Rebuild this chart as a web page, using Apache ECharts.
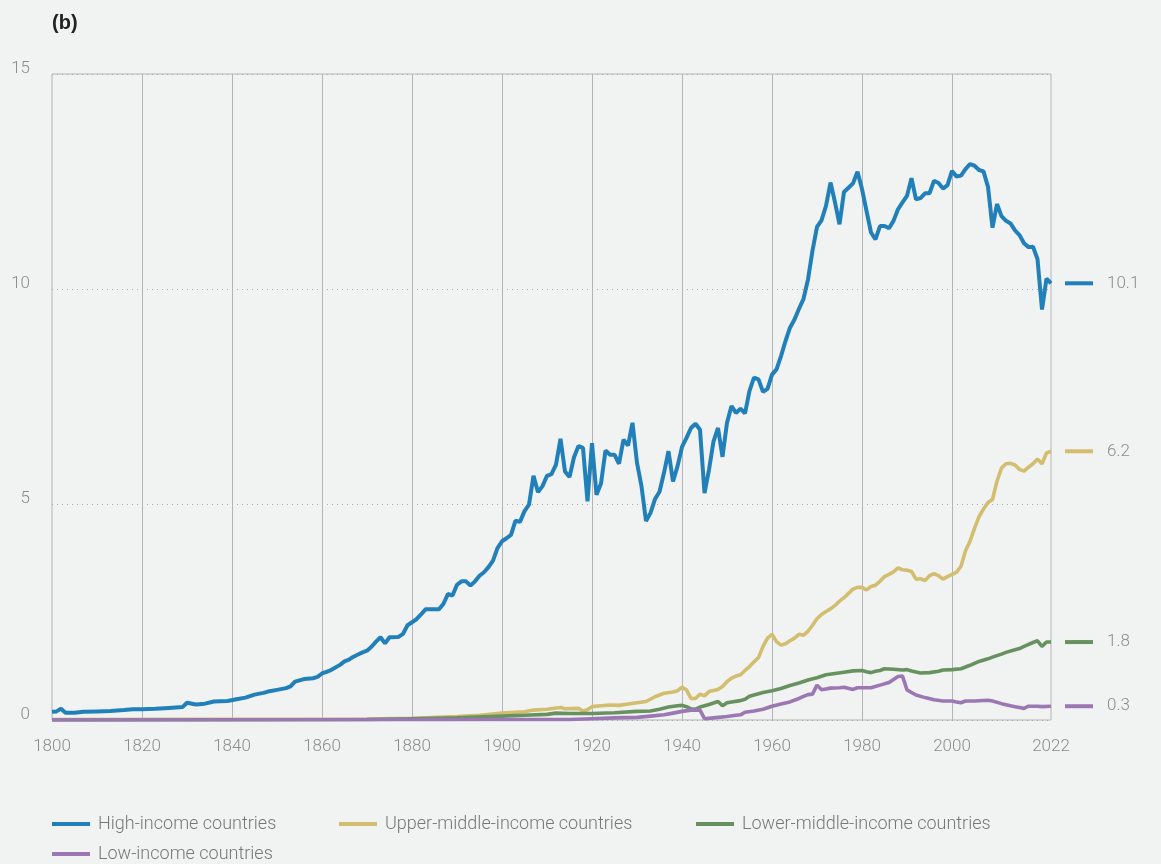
<!DOCTYPE html>
<html>
<head>
<meta charset="utf-8">
<script src="https://cdn.jsdelivr.net/npm/echarts@6/dist/echarts.min.js"></script>
<style>
html,body{margin:0;padding:0;background:#f1f2f2;}
#c{width:1161px;height:864px;}
</style>
</head>
<body>
<div id="c"></div>
<script>
// ---- data ----
const seriesNames = ['High-income countries','Upper-middle-income countries','Lower-middle-income countries','Low-income countries'];
const endLabels = ['10.1','6.2','1.8','0.3'];
const xTickLabels = [1800,1820,1840,1860,1880,1900,1920,1940,1960,1980,2000,2022];
const gridYears = [1820,1840,1860,1880,1900,1920,1940,1960,1980,2000];

const highYears = [1800,1801,1802,1803,1805,1807,1810,1813,1816,1818,1820,1823,1826,1829,1830,1832,1834,1836,1839,1841,1843,1845,1847,1848,1850,1852,1853,1854,1856,1858,1859,1860,1861,1862,1864,1865,1866,1867,1868,1869,1870,1871,1872,1873,1874,1875,1877,1878,1879,1880,1881,1882,1883,1884,1886,1887,1888,1889,1890,1891,1892,1893,1894,1895,1896,1897,1898,1899,1900,1901,1902,1903,1904,1905,1906,1907,1908,1909,1910,1911,1912,1913,1914,1915,1916,1917,1918,1919,1920,1921,1922,1923,1924,1925,1926,1927,1928,1929,1930,1931,1932,1933,1934,1935,1936,1937,1938,1939,1940,1941,1942,1943,1944,1945,1946,1947,1948,1949,1950,1951,1952,1953,1954,1955,1956,1957,1958,1959,1960,1961,1962,1963,1964,1965,1966,1967,1968,1969,1970,1971,1972,1973,1974,1975,1976,1977,1978,1979,1980,1981,1982,1983,1984,1985,1986,1987,1988,1989,1990,1991,1992,1993,1994,1995,1996,1997,1998,1999,2000,2001,2002,2003,2004,2005,2006,2007,2008,2009,2010,2011,2012,2013,2014,2015,2016,2017,2018,2019,2020,2021,2022];
const highValues = [0.19,0.20,0.26,0.17,0.17,0.19,0.20,0.21,0.23,0.25,0.25,0.26,0.28,0.30,0.40,0.36,0.38,0.43,0.44,0.48,0.52,0.59,0.63,0.66,0.70,0.74,0.78,0.89,0.95,0.97,1.00,1.08,1.12,1.16,1.28,1.36,1.40,1.47,1.52,1.57,1.61,1.70,1.82,1.92,1.78,1.92,1.93,2.00,2.20,2.27,2.34,2.45,2.57,2.57,2.57,2.70,2.93,2.89,3.14,3.22,3.22,3.12,3.22,3.35,3.43,3.55,3.70,3.99,4.15,4.22,4.30,4.63,4.60,4.85,5.00,5.67,5.29,5.43,5.67,5.71,5.93,6.53,5.77,5.64,6.10,6.36,6.32,5.08,6.43,5.23,5.49,6.26,6.16,6.16,5.95,6.51,6.37,6.90,5.97,5.43,4.62,4.81,5.13,5.30,5.74,6.24,5.54,5.89,6.34,6.55,6.78,6.88,6.74,5.27,5.81,6.47,6.78,6.11,6.90,7.29,7.13,7.23,7.12,7.64,7.95,7.91,7.62,7.69,8.02,8.14,8.45,8.80,9.11,9.30,9.55,9.78,10.23,10.90,11.45,11.60,11.94,12.48,12.02,11.51,12.26,12.36,12.46,12.73,12.33,11.82,11.32,11.16,11.47,11.47,11.42,11.59,11.86,12.02,12.17,12.58,12.09,12.12,12.23,12.23,12.52,12.47,12.34,12.42,12.75,12.62,12.64,12.79,12.91,12.87,12.77,12.74,12.38,11.43,11.98,11.70,11.59,11.53,11.37,11.26,11.07,10.98,10.99,10.70,9.53,10.25,10.14];

const upperYears = [1800,1870,1880,1890,1895,1900,1905,1907,1910,1913,1914,1917,1918,1919,1920,1922,1924,1926,1928,1930,1932,1934,1936,1938,1939,1940,1941,1942,1943,1944,1945,1946,1948,1949,1950,1951,1952,1953,1954,1955,1956,1957,1958,1959,1960,1961,1962,1963,1964,1965,1966,1967,1968,1969,1970,1971,1972,1973,1974,1975,1976,1977,1978,1979,1980,1981,1982,1983,1984,1985,1986,1987,1988,1989,1990,1991,1992,1993,1994,1995,1996,1997,1998,1999,2000,2001,2002,2003,2004,2005,2006,2007,2008,2009,2010,2011,2012,2013,2014,2015,2016,2017,2018,2019,2020,2021,2022];
const upperValues = [0.01,0.02,0.04,0.08,0.11,0.16,0.19,0.23,0.25,0.29,0.26,0.27,0.21,0.24,0.31,0.33,0.35,0.34,0.37,0.40,0.43,0.54,0.62,0.65,0.68,0.76,0.70,0.50,0.50,0.60,0.56,0.66,0.71,0.78,0.89,0.97,1.02,1.05,1.15,1.24,1.35,1.45,1.71,1.90,1.99,1.82,1.74,1.77,1.84,1.90,1.99,1.97,2.06,2.20,2.35,2.45,2.52,2.58,2.66,2.76,2.84,2.94,3.04,3.08,3.08,3.02,3.10,3.13,3.22,3.33,3.38,3.44,3.53,3.49,3.48,3.45,3.27,3.28,3.24,3.35,3.40,3.35,3.27,3.33,3.38,3.43,3.57,3.93,4.15,4.45,4.72,4.90,5.05,5.12,5.55,5.85,5.95,5.96,5.92,5.82,5.78,5.87,5.95,6.06,5.95,6.20,6.24];

const lowerYears = [1800,1870,1880,1890,1900,1905,1910,1912,1915,1920,1925,1930,1933,1935,1937,1939,1940,1941,1942,1943,1944,1946,1948,1949,1950,1951,1953,1954,1955,1957,1958,1960,1962,1964,1966,1968,1970,1972,1974,1976,1978,1980,1981,1982,1983,1984,1985,1987,1989,1990,1991,1993,1995,1997,1998,2000,2002,2004,2006,2008,2009,2011,2012,2014,2015,2016,2018,2019,2020,2021,2022];
const lowerValues = [0.00,0.01,0.03,0.05,0.09,0.11,0.13,0.16,0.15,0.15,0.17,0.20,0.21,0.25,0.30,0.33,0.34,0.31,0.26,0.25,0.30,0.36,0.43,0.33,0.40,0.42,0.45,0.48,0.55,0.61,0.64,0.68,0.73,0.80,0.86,0.93,0.98,1.05,1.08,1.11,1.14,1.15,1.12,1.10,1.13,1.15,1.19,1.18,1.16,1.17,1.14,1.09,1.10,1.13,1.16,1.17,1.19,1.27,1.36,1.42,1.46,1.53,1.57,1.63,1.66,1.71,1.80,1.84,1.71,1.81,1.81];

const lowYears = [1800,1900,1915,1920,1925,1930,1933,1936,1938,1940,1942,1944,1945,1947,1950,1952,1953,1954,1956,1958,1960,1962,1964,1966,1967,1968,1969,1970,1971,1972,1973,1975,1976,1978,1979,1981,1982,1984,1986,1988,1989,1990,1991,1992,1994,1996,1998,2000,2001,2002,2003,2005,2008,2009,2011,2013,2014,2015,2016,2017,2019,2020,2022];
const lowValues = [0.00,0.01,0.01,0.03,0.05,0.06,0.09,0.12,0.16,0.20,0.23,0.23,0.03,0.05,0.08,0.11,0.12,0.18,0.21,0.25,0.32,0.37,0.42,0.50,0.55,0.59,0.60,0.81,0.70,0.72,0.74,0.75,0.76,0.71,0.75,0.75,0.75,0.81,0.87,1.01,1.02,0.70,0.64,0.58,0.52,0.47,0.44,0.44,0.42,0.40,0.44,0.44,0.46,0.44,0.38,0.33,0.31,0.29,0.27,0.32,0.32,0.31,0.32];

const colors = ['#2180b9','#d2be6e','#689160','#9b78b4'];

// ---- chart ----
const FONT = 'Roboto, "Liberation Sans", sans-serif';
const chart = echarts.init(document.getElementById('c'), null, {renderer:'canvas'});
const allYears = [highYears, upperYears, lowerYears, lowYears];
const allValues = [highValues, upperValues, lowerValues, lowValues];

const series = seriesNames.map((name, i) => ({
  name: name,
  type: 'line',
  data: allYears[i].map((y, k) => [y, allValues[i][k]]),
  showSymbol: false,
  symbol: 'none',
  z: 10 + i,
  lineStyle: {color: colors[i], width: i === 0 ? 4 : 3.6},
  itemStyle: {color: colors[i]},
  endLabel: {
    show: true,
    distance: 14,
    formatter: () => '{bar|}{gap|}' + endLabels[i],
    color: '#8c8c8c',
    fontSize: 17,
    fontFamily: FONT,
    fontWeight: 300,
    rich: {
      bar: {width: 28, height: 4, backgroundColor: colors[i]},
      gap: {width: 14}
    }
  }
}));

series.push({
  name: 'grid',
  type: 'line',
  data: [],
  silent: true,
  z: 1,
  markLine: {
    silent: true,
    symbol: 'none',
    label: {show: false},
    animation: false,
    lineStyle: {color: '#b4b4b4', width: 1, type: 'solid'},
    data: gridYears.map(y => ({xAxis: y}))
  }
});

const legendLefts = [47, 334, 691, 47];
const legendTops = [810, 810, 810, 840];

chart.setOption({
  animation: false,
  backgroundColor: '#f1f2f2',
  title: {
    text: '(b)', left: 47, top: 8,
    textStyle: {fontSize: 20, fontWeight: 'bold', color: '#222', fontFamily: '"Liberation Sans", Arial, sans-serif'}
  },
  grid: {
    left: 52, right: 110, top: 74, bottom: 144,
    show: true, borderColor: '#b4b4b4', borderWidth: 1, backgroundColor: 'transparent'
  },
  legend: seriesNames.map((n, i) => ({
    data: [n],
    left: legendLefts[i], top: legendTops[i],
    icon: 'rect', itemWidth: 38, itemHeight: 4,
    selectedMode: false,
    textStyle: {color: '#777', fontSize: 18, fontFamily: FONT, fontWeight: 300, padding: [0,0,0,3]}
  })),
  xAxis: {
    type: 'value', min: 1800, max: 2022,
    axisLine: {show: false}, axisTick: {show: false}, splitLine: {show: false},
    axisLabel: {
      customValues: xTickLabels,
      color: '#8c8c8c', fontSize: 17, fontFamily: FONT, fontWeight: 300, margin: 18,
      formatter: v => String(v)
    }
  },
  yAxis: {
    type: 'value', min: 0, max: 15, interval: 5,
    axisLine: {show: false}, axisTick: {show: false},
    splitLine: {show: true, lineStyle: {color: '#a8a8a8', type: [1, 4], width: 1}},
    axisLabel: {color: '#8c8c8c', fontSize: 17, fontFamily: FONT, fontWeight: 300, margin: 22, verticalAlign: 'bottom', lineHeight: 11}
  },
  series: series
});
</script>
</body>
</html>
